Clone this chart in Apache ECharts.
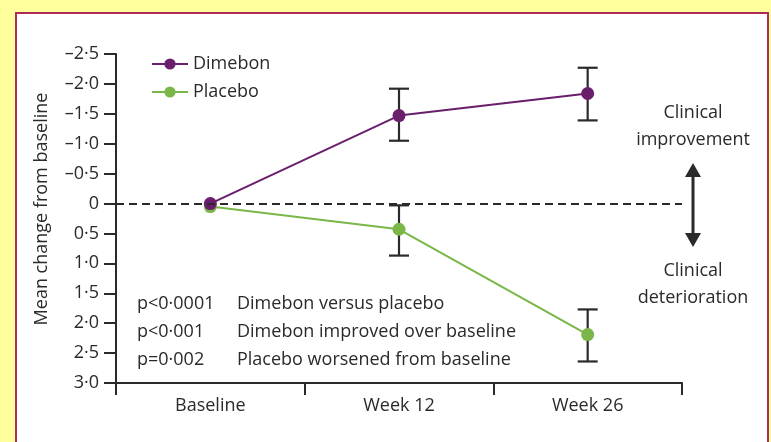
<!DOCTYPE html>
<html>
<head>
<meta charset="utf-8">
<script src="https://cdn.jsdelivr.net/npm/echarts@6/dist/echarts.min.js"></script>
<style>
  html, body { margin: 0; padding: 0; background: #ffff9c; }
  #frame { position: absolute; left: 15px; top: 12px; width: 754px; height: 432px; box-sizing: border-box; border: 2px solid #b0285c; background: #ffffff; }
  #chart { position: absolute; left: 0; top: 0; width: 771px; height: 442px; }
</style>
</head>
<body>
<div id="frame"></div>
<div id="chart"></div>
<script>
const categories = ['Baseline', 'Week 12', 'Week 26'];
const dimebonMean = [0, -1.47, -1.84];
const dimebonErrTop = [null, -1.92, -2.27];
const dimebonErrBottom = [null, -1.05, -1.39];
const placeboMean = [0.05, 0.43, 2.19];
const placeboErrTop = [null, 0.03, 1.77];
const placeboErrBottom = [null, 0.87, 2.64];
const pValues = ['p<0·0001', 'p<0·001', 'p=0·002'];
const pTexts = ['Dimebon versus placebo', 'Dimebon improved over baseline', 'Placebo worsened from baseline'];

const FONT = 'Open Sans';
const FS = 18;
const INK = '#2a2a2a';

function errData(top, bottom) {
  const out = [];
  for (let i = 0; i < categories.length; i++) {
    if (top[i] != null) out.push([i, top[i], bottom[i]]);
  }
  return out;
}

function renderErr(params, api) {
  const i = api.value(0);
  const a = api.coord([i, api.value(1)]);
  const b = api.coord([i, api.value(2)]);
  const hw = 10;
  const style = { stroke: INK, lineWidth: 2.2 };
  return {
    type: 'group',
    children: [
      { type: 'line', shape: { x1: a[0], y1: a[1], x2: b[0], y2: b[1] }, style },
      { type: 'line', shape: { x1: a[0] - hw, y1: a[1], x2: a[0] + hw, y2: a[1] }, style },
      { type: 'line', shape: { x1: b[0] - hw, y1: b[1], x2: b[0] + hw, y2: b[1] }, style }
    ]
  };
}

function fmtY(v) {
  if (Math.abs(v) < 1e-9) return '0';
  return (v < 0 ? '–' : '') + Math.abs(v).toFixed(1).replace('.', '·');
}

const textStyle = { fontFamily: FONT, fontSize: FS, fill: INK };
const graphics = [];
pValues.forEach((p, k) => {
  graphics.push({ type: 'text', x: 137, y: 304 + k * 28, style: Object.assign({ text: p, verticalAlign: 'middle' }, textStyle) });
  graphics.push({ type: 'text', x: 237, y: 304 + k * 28, style: Object.assign({ text: pTexts[k], verticalAlign: 'middle' }, textStyle) });
});
[['Clinical', 113], ['improvement', 140], ['Clinical', 271], ['deterioration', 298]].forEach(([t, y]) => {
  graphics.push({ type: 'text', x: 693, y: y, style: Object.assign({ text: t, align: 'center', verticalAlign: 'middle' }, textStyle) });
});
graphics.push({ type: 'text', x: 42, y: 209, rotation: Math.PI / 2, style: Object.assign({ text: 'Mean change from baseline', align: 'center', verticalAlign: 'middle' }, textStyle) });
// double-headed arrow
graphics.push({ type: 'line', shape: { x1: 693, y1: 172, x2: 693, y2: 238 }, style: { stroke: INK, lineWidth: 3 } });
graphics.push({ type: 'polygon', shape: { points: [[693, 163], [685, 177], [701, 177]] }, style: { fill: INK } });
graphics.push({ type: 'polygon', shape: { points: [[693, 247], [685, 233], [701, 233]] }, style: { fill: INK } });

const chart = echarts.init(document.getElementById('chart'), null, { renderer: 'canvas' });
chart.setOption({
  backgroundColor: 'transparent',
  animation: false,
  textStyle: { fontFamily: FONT },
  grid: { left: 116, right: 89, top: 54, bottom: 59 },
  legend: {
    orient: 'vertical',
    left: 146,
    top: 50,
    itemWidth: 36,
    itemHeight: 14,
    itemGap: 10,
    textStyle: { fontFamily: FONT, fontSize: FS, color: INK },
    data: ['Dimebon', 'Placebo']
  },
  xAxis: {
    type: 'category',
    data: categories,
    boundaryGap: true,
    axisLine: { onZero: false, lineStyle: { color: INK, width: 2 } },
    axisTick: { show: true, length: 12, lineStyle: { color: INK, width: 2 } },
    axisLabel: { color: INK, fontFamily: FONT, fontSize: FS, margin: 14 }
  },
  yAxis: {
    type: 'value',
    inverse: true,
    min: -2.5,
    max: 3,
    interval: 0.5,
    axisLine: { show: true, lineStyle: { color: INK, width: 2 } },
    axisTick: { show: true, length: 12, lineStyle: { color: INK, width: 2 } },
    axisLabel: { color: INK, fontFamily: FONT, fontSize: FS, margin: 17, formatter: fmtY },
    splitLine: { show: false }
  },
  graphic: graphics,
  series: [
    {
      name: 'Dimebon', type: 'line', data: dimebonMean,
      symbol: 'circle', symbolSize: 13,
      lineStyle: { color: '#6a1f6c', width: 2 },
      itemStyle: { color: '#6a1f6c' },
      z: 4,
      markLine: {
        silent: true, symbol: ['none', 'none'], label: { show: false },
        lineStyle: { color: INK, type: [8, 5], width: 2 },
        data: [{ yAxis: 0 }]
      }
    },
    {
      name: 'Placebo', type: 'line', data: placeboMean,
      symbol: 'circle', symbolSize: 13,
      lineStyle: { color: '#7ab648', width: 2 },
      itemStyle: { color: '#7ab648' },
      z: 3
    },
    { type: 'custom', renderItem: renderErr, data: errData(dimebonErrTop, dimebonErrBottom), z: 2 },
    { type: 'custom', renderItem: renderErr, data: errData(placeboErrTop, placeboErrBottom), z: 2 }
  ]
});
</script>
</body>
</html>
